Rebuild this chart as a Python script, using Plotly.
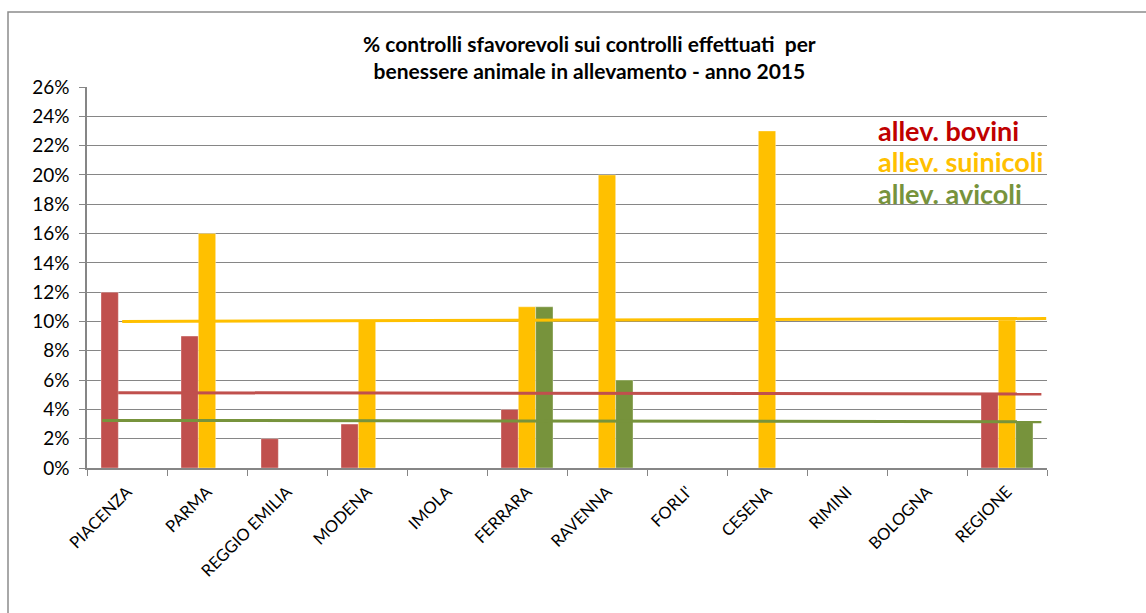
import plotly.graph_objects as go

# Categories and percentages of unfavourable checks (2015)
categories = ["PIACENZA", "PARMA", "REGGIO EMILIA", "MODENA", "IMOLA", "FERRARA",
              "RAVENNA", "FORLI'", "CESENA", "RIMINI", "BOLOGNA", "REGIONE"]
bovini = [0.12, 0.09, 0.02, 0.03, 0, 0.04, 0, 0, 0, 0, 0, 0.051]
suinicoli = [0, 0.16, 0, 0.10, 0, 0.11, 0.20, 0, 0.23, 0, 0, 0.101]
avicoli = [0, 0, 0, 0, 0, 0.11, 0.06, 0, 0, 0, 0, 0.031]

# Reference lines (regional level): start and end values
ref_bovini = [0.0514, 0.0505]
ref_suinicoli = [0.100, 0.102]
ref_avicoli = [0.0325, 0.0316]

series_names = ["allev. bovini", "allev. suinicoli", "allev. avicoli"]
bar_colors = ["#C0504D", "#FFC000", "#77933C"]
label_colors = ["#C00000", "#FFC000", "#77933C"]

FONT = "Lato"

fig = go.Figure()
for name, vals, col in zip(series_names, [bovini, suinicoli, avicoli], bar_colors):
    fig.add_trace(go.Bar(x=categories, y=vals, name=name, marker_color=col,
                         marker_line_width=0.6, marker_line_color="rgba(255,255,255,0.6)"))

shapes = []
# horizontal reference lines drawn over the bars
for vals, col, x0, x1 in [(ref_suinicoli, "#FFC000", -0.06, 11.49),
                          (ref_bovini, "#C0504D", -0.11, 11.43),
                          (ref_avicoli, "#77933C", -0.31, 11.43)]:
    shapes.append(dict(type="line", xref="x", yref="y", x0=x0, x1=x1,
                       y0=vals[0], y1=vals[1], line=dict(color=col, width=3),
                       layer="above"))

# outer chart frame (only top and left edges fall inside the page)
L, T, W, H = 87, 87, 960, 381
shapes.append(dict(type="rect", xref="paper", yref="paper",
                   x0=(8 - L) / W, x1=(1400 - L) / W,
                   y0=(T + H - 900) / H, y1=(T + H - 12) / H,
                   line=dict(color="#8C8C8C", width=1.5), fillcolor="rgba(0,0,0,0)",
                   layer="below"))

annotations = [
    dict(text="<b>% controlli sfavorevoli sui controlli effettuati  per<br>"
              "benessere animale in allevamento - anno 2015</b>",
         xref="paper", yref="paper", x=(589 - L) / W, y=(T + H - 57) / H,
         xanchor="center", yanchor="middle", showarrow=False,
         font=dict(family=FONT, size=21, color="#000000"), align="center"),
]
for i, (name, col) in enumerate(zip(series_names, label_colors)):
    annotations.append(dict(text="<b>" + name + "</b>", xref="paper", yref="paper",
                            x=(876 - L) / W, y=(T + H - (130 + 31.5 * i)) / H,
                            xanchor="left", yanchor="middle", showarrow=False,
                            font=dict(family=FONT, size=27, color=col)))

fig.update_layout(
    width=1146, height=613,
    margin=dict(l=L, r=1146 - L - W, t=T, b=613 - T - H),
    paper_bgcolor="white", plot_bgcolor="white",
    barmode="group", bargap=0.35, bargroupgap=0,
    showlegend=False,
    shapes=shapes, annotations=annotations,
    font=dict(family=FONT, color="#000000"),
)
fig.update_xaxes(type="category", tickangle=-45, tickson="boundaries",
                 ticks="outside", ticklen=6, tickcolor="#868686",
                 showline=True, linecolor="#868686", linewidth=1.5,
                 showgrid=False, tickfont=dict(family=FONT, size=16.5, color="#000000"),
                 ticklabelstandoff=6, range=[-0.5, 11.5])
fig.update_yaxes(range=[0, 0.26], dtick=0.02, tickformat=".0%",
                 ticks="outside", ticklen=6, tickcolor="#868686",
                 showline=True, linecolor="#868686", linewidth=1.5,
                 showgrid=True, gridcolor="#868686", gridwidth=1,
                 zeroline=False, ticklabelstandoff=6,
                 tickfont=dict(family=FONT, size=19, color="#000000"))

fig.write_html("out.html")
